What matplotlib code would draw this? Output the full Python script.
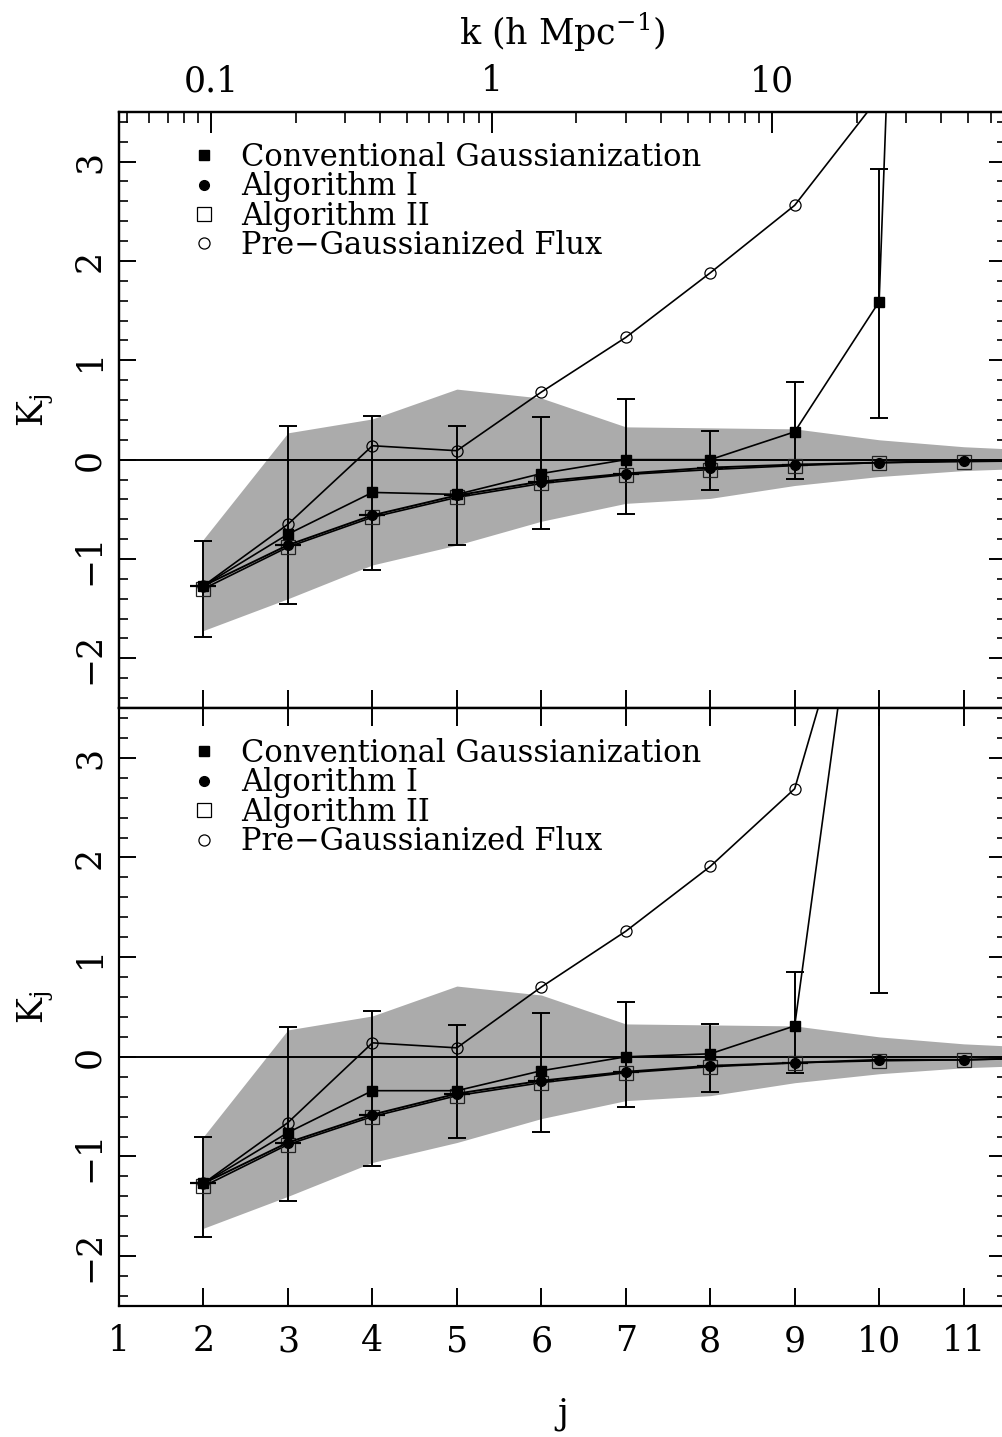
import matplotlib
matplotlib.use('Agg')
import matplotlib.pyplot as plt
from matplotlib.lines import Line2D
from matplotlib.ticker import MultipleLocator, FixedLocator, NullFormatter
import numpy as np

plt.rcParams['font.family'] = ['DejaVu Serif']
plt.rcParams['mathtext.fontset'] = 'dejavuserif'

# ---- data ----
j_all = np.arange(2, 13)          # 2..12
j_err = np.arange(2, 11)          # error bars at 2..10

band_hi = [-0.80, 0.27, 0.41, 0.71, 0.62, 0.33, 0.32, 0.31, 0.20, 0.13, 0.09]
band_lo = [-1.72, -1.40, -1.06, -0.86, -0.62, -0.44, -0.39, -0.26, -0.17, -0.11, -0.08]

# top panel
conv_top = [-1.27, -0.75, -0.33, -0.35, -0.14, 0.00, 0.00, 0.28, 1.59, 24.8]
conv_top_lo = [-1.79, -1.45, -1.11, -0.86, -0.70, -0.55, -0.31, -0.19, 0.42]
conv_top_hi = [-0.82, 0.34, 0.44, 0.34, 0.43, 0.61, 0.29, 0.78, 2.93]
alg1_top = [-1.27, -0.86, -0.56, -0.36, -0.22, -0.14, -0.08, -0.05, -0.03, -0.01, -0.01]
alg2_top = [-1.30, -0.88, -0.58, -0.38, -0.24, -0.15, -0.10, -0.06, -0.03, -0.02, -0.01]
pre_top = [-1.27, -0.65, 0.14, 0.09, 0.68, 1.23, 1.88, 2.56, 3.65]

# bottom panel
conv_bot = [-1.27, -0.76, -0.34, -0.34, -0.14, 0.00, 0.03, 0.31, 6.55]
conv_bot_lo = [-1.81, -1.45, -1.10, -0.81, -0.75, -0.50, -0.35, -0.16, 0.64]
conv_bot_hi = [-0.80, 0.30, 0.46, 0.32, 0.44, 0.55, 0.33, 0.85, 12.5]
alg1_bot = [-1.27, -0.86, -0.58, -0.37, -0.24, -0.15, -0.09, -0.06, -0.03, -0.03, -0.01]
alg2_bot = [-1.30, -0.88, -0.60, -0.39, -0.26, -0.16, -0.10, -0.06, -0.04, -0.03, -0.01]
pre_bot = [-1.27, -0.66, 0.14, 0.09, 0.70, 1.26, 1.91, 2.69, 5.6]

labels = ['Conventional Gaussianization', 'Algorithm I', 'Algorithm II',
          'Pre\u2212Gaussianized Flux']

J_MIN, J_MAX = 1.0, 11.5
K0, J0 = 0.1, 2.09   # k = K0 * 2**(j - J0)


def k_of_j(j):
    return K0 * 2.0 ** (j - J0)


def draw_panel(ax, conv, lo, hi, alg1, alg2, pre):
    ax.fill_between(j_all, band_lo, band_hi, color='#ababab', lw=0, zorder=1)
    ax.axhline(0, color='black', lw=1.4, zorder=2)

    conv = np.array(conv)
    jc = j_all[:len(conv)]
    ce = conv[:len(j_err)]
    ax.errorbar(j_err, ce, yerr=[ce - np.array(lo), np.array(hi) - ce],
                fmt='none', ecolor='black', elinewidth=1.4, capsize=6.5,
                capthick=1.4, zorder=3)

    ax.plot(j_all[:len(pre)], pre, '-', color='black', lw=1.2, marker='o',
            mfc='none', mec='black', mew=0.9, ms=8, zorder=4)
    ax.plot(j_all[:len(alg2)], alg2, '-', color='black', lw=1.2, marker='s',
            mfc='none', mec='#222222', mew=0.9, ms=9.5, zorder=4)
    ax.plot(j_all[:len(alg1)], alg1, '-', color='black', lw=1.4, marker='o',
            mfc='black', mec='black', ms=7, zorder=5)
    ax.plot(j_all[:8], alg1[:8], ls='none', marker='_', color='black',
            ms=19, mew=1.6, zorder=5)
    ax.plot(jc, conv, '-', color='black', lw=1.2, marker='s',
            mfc='black', mec='black', ms=6.5, zorder=5)

    ax.set_xlim(J_MIN, J_MAX)
    ax.set_ylim(-2.5, 3.5)
    ax.yaxis.set_major_locator(MultipleLocator(1))
    ax.yaxis.set_minor_locator(MultipleLocator(0.2))
    ax.xaxis.set_major_locator(MultipleLocator(1))
    ax.tick_params(axis='y', which='major', direction='in', length=12, width=1.4,
                   left=True, right=True, labelsize=25, labelrotation=90, pad=9)
    ax.tick_params(axis='y', which='minor', direction='in', length=6.5, width=1.2,
                   left=True, right=True)
    ax.tick_params(axis='x', which='major', direction='in', length=13, width=1.4,
                   labelsize=25, pad=13)
    for lab in ax.get_yticklabels():
        lab.set_va('center')
    for s in ax.spines.values():
        s.set_linewidth(1.6)
    ax.set_ylabel(r'K$_{\rm j}$', fontsize=25, labelpad=12)

    handles = [
        Line2D([0], [0], ls='none', marker='s', mfc='black', mec='black', ms=6.5),
        Line2D([0], [0], ls='none', marker='o', mfc='black', mec='black', ms=7),
        Line2D([0], [0], ls='none', marker='s', mfc='none', mec='black', mew=0.9, ms=9.5),
        Line2D([0], [0], ls='none', marker='o', mfc='none', mec='black', mew=0.9, ms=8),
    ]
    ax.legend(handles, labels, loc='upper left', bbox_to_anchor=(0.0786, 0.95),
              frameon=False, fontsize=22, handlelength=1.0, handletextpad=0.72,
              labelspacing=-0.05, borderpad=0, borderaxespad=0)


fig = plt.figure(figsize=(10.02, 14.37), dpi=100)
ax_top = fig.add_axes([0.1188, 0.5073, 0.885, 0.4148])
ax_bot = fig.add_axes([0.1188, 0.0912, 0.885, 0.4161])

draw_panel(ax_top, conv_top, conv_top_lo, conv_top_hi, alg1_top, alg2_top, pre_top)
draw_panel(ax_bot, conv_bot, conv_bot_lo, conv_bot_hi, alg1_bot, alg2_bot, pre_bot)

ax_top.tick_params(axis='x', which='major', top=False, bottom=True, labelbottom=False)
ax_bot.tick_params(axis='x', which='major', top=True, bottom=True)
ax_bot.set_xlabel('j', fontsize=25, labelpad=28)

# top k axis
ax_k = ax_top.twiny()
ax_k.set_xscale('log')
ax_k.set_xlim(k_of_j(J_MIN), k_of_j(J_MAX))
ax_k.xaxis.set_major_locator(FixedLocator([0.1, 1, 10]))
ax_k.set_xticklabels(['0.1', '1', '10'])
ax_k.xaxis.set_minor_formatter(NullFormatter())
ax_k.tick_params(axis='x', which='major', direction='in', length=15, width=1.4,
                 labelsize=25, pad=10)
ax_k.tick_params(axis='x', which='minor', direction='in', length=8, width=1.2)
ax_k.set_xlabel(r'k (h Mpc$^{-1}$)', fontsize=25, labelpad=14)
for s in ax_k.spines.values():
    s.set_linewidth(1.6)

fig.savefig('out.png', dpi=100)
